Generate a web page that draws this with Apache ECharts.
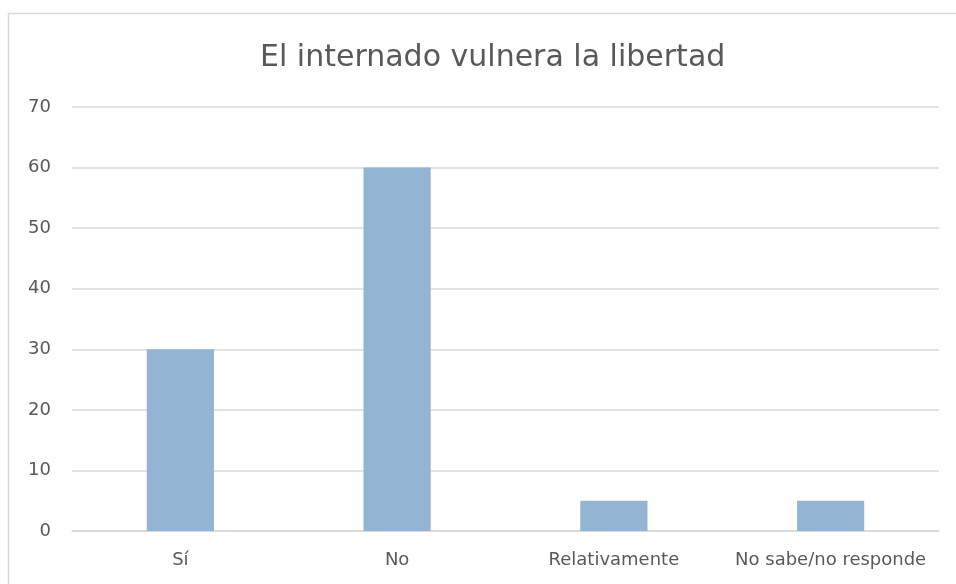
<!DOCTYPE html>
<html>
<head>
<meta charset="utf-8">
<script src="https://cdn.jsdelivr.net/npm/echarts@6/dist/echarts.min.js"></script>
<style>
  html, body { margin: 0; padding: 0; background: #ffffff; }
  #chart { width: 956px; height: 584px; }
</style>
</head>
<body>
<div id="chart"></div>
<script>
// Survey answers: does boarding school infringe on freedom?
const titleText = 'El internado vulnera la libertad';
const categories = ['Sí', 'No', 'Relativamente', 'No sabe/no responde'];
const values = [30, 60, 5, 5];
const yMin = 0;
const yMax = 70;
const yStep = 10;

const FONT = '"DejaVu Sans", "Noto Sans", sans-serif';
const TEXT = '#595959';
const GRID = '#d9d9d9';

const chart = echarts.init(document.getElementById('chart'), null, { renderer: 'canvas' });
chart.setOption({
  backgroundColor: '#ffffff',
  animation: false,
  graphic: [{
    type: 'rect',
    left: 6, top: 11,
    shape: { x: 0, y: 0, width: 1000, height: 640 },
    style: { fill: 'none', stroke: GRID, lineWidth: 1.5 },
    silent: true, z: -1
  }],
  title: {
    text: titleText,
    left: 255,
    top: 38,
    textStyle: { fontFamily: FONT, fontSize: 30, fontWeight: 'normal', color: TEXT }
  },
  grid: { left: 72, right: 17, top: 107, bottom: 53, containLabel: false },
  xAxis: {
    type: 'category',
    data: categories,
    axisLine: { show: true, lineStyle: { color: GRID, width: 1.5 } },
    axisTick: { show: false },
    axisLabel: { interval: 0, color: TEXT, fontFamily: FONT, fontSize: 18, margin: 20 }
  },
  yAxis: {
    type: 'value',
    min: yMin, max: yMax, interval: yStep,
    axisLine: { show: false },
    axisTick: { show: false },
    splitLine: { lineStyle: { color: GRID, width: 1.5 } },
    axisLabel: { color: TEXT, fontFamily: FONT, fontSize: 18, margin: 21 }
  },
  series: [{
    type: 'bar',
    data: values,
    barWidth: '31%',
    itemStyle: { color: '#94b4d3' }
  }]
});
</script>
</body>
</html>
